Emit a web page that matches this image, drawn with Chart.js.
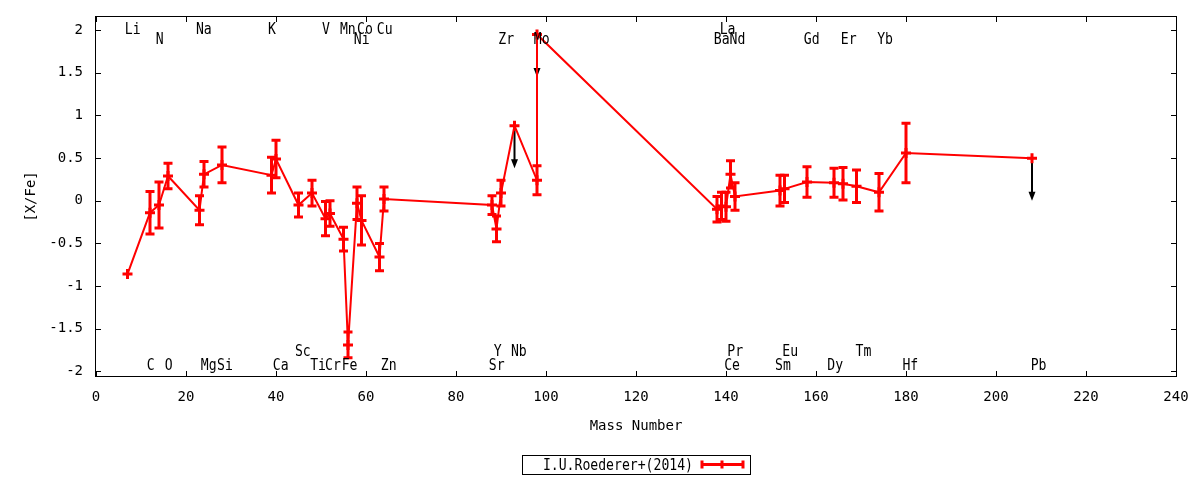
<!DOCTYPE html>
<html><head><meta charset="utf-8">
<script src="https://cdn.jsdelivr.net/npm/chart.js@4.4.1/dist/chart.umd.min.js"></script>
<style>html,body{margin:0;padding:0;background:#fff;}</style>
</head><body>
<canvas id="c" width="1200" height="480" style="width:1200px;height:480px;display:block"></canvas>
<script>
// ---- data ----
const elements   = ['Li','C','N','O','Na','Mg','Si','K','Ca','Sc','Ti','V','Cr','Mn','Fe','Ni','Co','Cu','Zn','Sr','Y','Zr','Nb','Mo','Mo','Ba','La','Ce','Pr','Nd','Sm','Eu','Gd','Dy','Er','Tm','Yb','Hf','Pb'];
const massNumber = [7,12,14,16,23,24,28,39,40,45,48,51,52,55,56,58,59,63,64,88,89,90,93,98,98,138,139,140,141,142,152,153,158,164,166,169,174,180,208];
const xFe        = [-0.86,-0.14,-0.05,0.29,-0.11,0.31,0.42,0.30,0.49,-0.05,0.09,-0.21,-0.15,-0.45,-1.69,-0.03,-0.23,-0.66,0.02,-0.05,-0.33,0.09,0.88,0.24,1.95,-0.10,-0.06,-0.07,0.31,0.05,0.12,0.14,0.22,0.21,0.20,0.17,0.10,0.56,0.50];
const xFeErr     = [0,0.25,0.27,0.15,0.17,0.15,0.21,0.21,0.22,0.14,0.15,0.20,0.15,0.14,0.15,0.19,0.29,0.16,0.14,0.11,0.15,0.15,0,0.17,0,0.15,0.16,0.17,0.16,0.16,0.18,0.16,0.18,0.17,0.19,0.19,0.22,0.35,0];
const upperLimit = [0,0,0,0,0,0,0,0,0,0,0,0,0,0,0,0,0,0,0,0,0,0,1,0,1,0,0,0,0,0,0,0,0,0,0,0,0,0,1];
const limitArrow = 0.5;

// element name annotations: text, x (mass scale), row
const labelText = ['Li','Na','K','V','Mn','Co','Cu','La',
                   'N','Ni','Zr','Mo','Ba','Nd','Gd','Er','Yb',
                   'Sc','Y','Nb','Pr','Eu','Tm',
                   'C','O','Mg','Si','Ca','Ti','Cr','Fe','Zn','Sr','Ce','Sm','Dy','Hf','Pb'];
const labelX    = [6.4,22.2,38.2,50.2,54.2,58.0,62.4,138.6,
                   13.3,57.3,89.4,97.3,137.3,140.8,157.3,165.5,173.6,
                   44.2,88.4,92.2,140.3,152.5,168.8,
                   11.3,15.3,23.3,26.9,39.3,47.6,50.9,54.6,63.3,87.3,139.6,150.9,162.5,179.2,207.7];
const labelRow  = [0,0,0,0,0,0,0,0,
                   1,1,1,1,1,1,1,1,1,
                   2,2,2,2,2,2,
                   3,3,3,3,3,3,3,3,3,3,3,3,3,3,3];
const rowBaseline = [1.96, 1.84, -1.82, -1.99];

const xTicks = [0,20,40,60,80,100,120,140,160,180,200,220,240];
const yTicks = [-2,-1.5,-1,-0.5,0,0.5,1,1.5,2];
const seriesName = 'I.U.Roederer+(2014)';

// ---- drawing helpers ----
const RED = '#ff0000';
const MONO = "'DejaVu Sans Mono', monospace";
function drawCondensed(ctx, text, x, y, align) {
  ctx.save();
  ctx.font = "16px " + MONO;
  ctx.fillStyle = '#000';
  ctx.textBaseline = 'alphabetic';
  ctx.textAlign = align || 'left';
  ctx.translate(x, y);
  ctx.scale(0.82, 1);
  ctx.fillText(text, 0, 0);
  ctx.restore();
}

const framePlugin = {
  id: 'frame',
  beforeDatasetsDraw(chart) {
    const {ctx, chartArea: a, scales: {x, y}} = chart;
    ctx.save();
    ctx.strokeStyle = '#000';
    ctx.lineWidth = 1;
    ctx.strokeRect(Math.round(a.left) - 0.5, Math.round(a.top) - 0.5, Math.round(a.right - a.left) + 1, Math.round(a.bottom - a.top) + 1);
    ctx.beginPath();
    const tl = 5;
    xTicks.forEach(v => {
      const px = Math.round(x.getPixelForValue(v)) + 0.5;
      ctx.moveTo(px, a.bottom); ctx.lineTo(px, a.bottom - tl);
      ctx.moveTo(px, a.top); ctx.lineTo(px, a.top + tl);
    });
    yTicks.forEach(v => {
      const py = Math.round(y.getPixelForValue(v)) + 0.5;
      ctx.moveTo(a.left, py); ctx.lineTo(a.left + tl, py);
      ctx.moveTo(a.right, py); ctx.lineTo(a.right - tl, py);
    });
    ctx.stroke();
    // upper-limit arrows (under the data)
    ctx.strokeStyle = '#000';
    ctx.fillStyle = '#000';
    ctx.lineWidth = 2;
    massNumber.forEach((m, i) => {
      if (!upperLimit[i]) return;
      const px = x.getPixelForValue(m);
      const y0 = y.getPixelForValue(xFe[i]);
      const y1 = y.getPixelForValue(xFe[i] - limitArrow);
      ctx.beginPath();
      ctx.moveTo(px, y0); ctx.lineTo(px, y1 - 6);
      ctx.stroke();
      ctx.beginPath();
      ctx.moveTo(px - 3.5, y1 - 9); ctx.lineTo(px + 3.5, y1 - 9); ctx.lineTo(px, y1);
      ctx.closePath(); ctx.fill();
    });
    ctx.restore();
  },
  afterDatasetsDraw(chart) {
    const {ctx, scales: {x, y}} = chart;
    ctx.save();
    ctx.strokeStyle = RED;
    ctx.lineWidth = 3;
    ctx.lineCap = 'butt';
    massNumber.forEach((m, i) => {
      const e = xFeErr[i];
      if (!e) return;
      const px = x.getPixelForValue(m);
      const yt = y.getPixelForValue(xFe[i] + e);
      const yb = y.getPixelForValue(xFe[i] - e);
      ctx.beginPath();
      ctx.moveTo(px, yt - 1.5); ctx.lineTo(px, yb + 1.5);
      ctx.moveTo(px - 4.5, yt); ctx.lineTo(px + 4.5, yt);
      ctx.moveTo(px - 4.5, yb); ctx.lineTo(px + 4.5, yb);
      ctx.stroke();
    });
    ctx.restore();
  },
  afterDraw(chart) {
    const {ctx, scales: {x, y}} = chart;
    labelText.forEach((t, i) => {
      drawCondensed(ctx, t, x.getPixelForValue(labelX[i]), y.getPixelForValue(rowBaseline[labelRow[i]]), 'left');
    });
    // key
    ctx.save();
    ctx.strokeStyle = '#000';
    ctx.lineWidth = 1;
    ctx.strokeRect(522.5, 455.5, 228, 19);
    ctx.restore();
    drawCondensed(ctx, seriesName, 693, 470, 'right');
    ctx.save();
    ctx.strokeStyle = RED;
    ctx.lineWidth = 3;
    ctx.beginPath();
    ctx.moveTo(701, 464.5); ctx.lineTo(744, 464.5);
    [702, 722, 743].forEach(px => { ctx.moveTo(px, 460.5); ctx.lineTo(px, 468.5); });
    ctx.stroke();
    ctx.restore();
  }
};

const axisFont = {family: MONO, size: 14};
new Chart(document.getElementById('c'), {
  type: 'scatter',
  data: {
    datasets: [{
      label: seriesName,
      data: massNumber.map((m, i) => ({x: m, y: xFe[i]})),
      showLine: true,
      borderColor: RED,
      backgroundColor: RED,
      borderWidth: 2,
      pointStyle: 'cross',
      pointRadius: 5,
      pointBorderWidth: 3,
      pointBorderColor: RED,
      tension: 0
    }]
  },
  options: {
    responsive: false,
    animation: false,
    devicePixelRatio: 1,
    layout: {padding: {left: 0, right: 24, top: 17, bottom: 0}},
    plugins: {legend: {display: false}, tooltip: {enabled: false}},
    scales: {
      x: {
        type: 'linear', position: 'bottom', min: 0, max: 240,
        afterBuildTicks: s => { s.ticks = xTicks.map(v => ({value: v})); },
        ticks: {color: '#000', font: axisFont, padding: 13, maxRotation: 0, autoSkip: false, callback: v => String(v)},
        grid: {display: false, drawTicks: false},
        border: {display: false},
        title: {display: true, text: 'Mass Number', color: '#000', font: axisFont, padding: {top: 0, bottom: 45}},
        afterFit: s => { s.height = 104; s.paddingLeft = 0; s.paddingRight = 0; }
      },
      y: {
        type: 'linear', position: 'left', min: -2.055, max: 2.155,
        afterBuildTicks: s => { s.ticks = yTicks.map(v => ({value: v})); },
        ticks: {color: '#000', font: axisFont, padding: 13, autoSkip: false, callback: v => String(v)},
        grid: {display: false, drawTicks: false},
        border: {display: false},
        title: {display: true, text: '[X/Fe]', color: '#000', font: axisFont, padding: {top: 23, bottom: 0}},
        afterFit: s => { s.width = 96; s.paddingTop = 0; s.paddingBottom = 0; }
      }
    }
  },
  plugins: [framePlugin]
});
</script>
</body></html>
